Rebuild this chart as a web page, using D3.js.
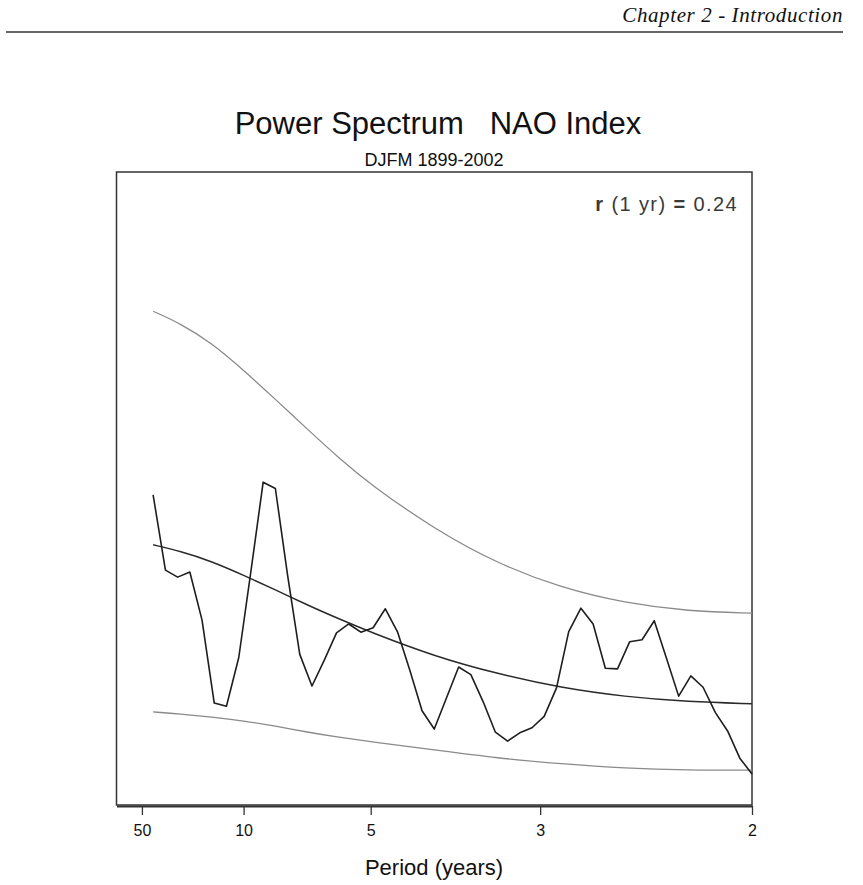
<!DOCTYPE html>
<html>
<head>
<meta charset="utf-8">
<script src="https://cdn.jsdelivr.net/npm/d3@7"></script>
<style>
  body { margin: 0; background: #fff; }
  text { font-family: "Liberation Sans", Arial, sans-serif; }
</style>
</head>
<body>
<div id="container"></div>
<script>
/* CONSTANTS AND GLOBALS */
const width = 863,
  height = 885,
  margin = { top: 172, bottom: 80, left: 116.5, right: 111 }

/* DATA */
// spectrum estimates at harmonics k/104 (k = 3..52), arbitrary power units
const freqs = [0.0288, 0.0385, 0.0481, 0.0577, 0.0673, 0.0769, 0.0865, 0.0962, 0.1058, 0.1154,
  0.1250, 0.1346, 0.1442, 0.1538, 0.1635, 0.1731, 0.1827, 0.1923, 0.2019, 0.2115,
  0.2212, 0.2308, 0.2404, 0.2500, 0.2596, 0.2692, 0.2788, 0.2885, 0.2981, 0.3077,
  0.3173, 0.3269, 0.3365, 0.3462, 0.3558, 0.3654, 0.3750, 0.3846, 0.3942, 0.4038,
  0.4135, 0.4231, 0.4327, 0.4423, 0.4519, 0.4615, 0.4712, 0.4808, 0.4904, 0.5000]
const power = [4.90, 3.71, 3.60, 3.68, 2.92, 1.61, 1.56, 2.33, 3.70, 5.10,
  5.00, 3.63, 2.38, 1.88, 2.29, 2.72, 2.86, 2.73, 2.80, 3.10,
  2.73, 2.13, 1.49, 1.20, 1.69, 2.18, 2.06, 1.63, 1.15, 1.01,
  1.14, 1.22, 1.40, 1.85, 2.74, 3.11, 2.86, 2.16, 2.15, 2.58,
  2.61, 2.91, 2.32, 1.72, 2.04, 1.86, 1.46, 1.17, 0.74, 0.49]

// red noise background and confidence limits
const bgFreqs = [0.0288, 0.05, 0.075, 0.1, 0.125, 0.15, 0.175, 0.2, 0.25, 0.3, 0.35, 0.4, 0.45, 0.5]
const upper = [7.80, 7.61, 7.30, 6.87, 6.41, 5.94, 5.48, 5.06, 4.36, 3.81, 3.43, 3.19, 3.06, 3.03]
const redNoise = [4.11, 4.01, 3.85, 3.63, 3.40, 3.16, 2.94, 2.73, 2.35, 2.07, 1.85, 1.71, 1.63, 1.60]
const lower = [1.47, 1.44, 1.39, 1.33, 1.25, 1.15, 1.07, 1.00, 0.87, 0.74, 0.65, 0.58, 0.55, 0.55]

// x axis: period ticks (years)
const periodTicks = [50, 10, 5, 3, 2]

const svg = d3.select("#container")
  .append("svg")
  .attr("width", width)
  .attr("height", height)

// header
svg.append("text")
  .attr("x", 843)
  .attr("y", 22)
  .attr("text-anchor", "end")
  .style("font-family", "'Liberation Serif', 'DejaVu Serif', serif")
  .attr("font-style", "italic")
  .attr("font-size", "21px")
  .attr("letter-spacing", "0.6px")
  .attr("fill", "#111")
  .text("Chapter 2 - Introduction")

svg.append("line")
  .attr("x1", 6).attr("x2", 843)
  .attr("y1", 32).attr("y2", 32)
  .attr("stroke", "#333")
  .attr("stroke-width", 1.3)

//scales
const xScale = d3.scaleLinear()
  .domain([0, 0.5])
  .range([margin.left, width - margin.right])

const yScale = d3.scaleLinear()
  .domain([0, 10])
  .range([height - margin.bottom, margin.top])

const x0 = xScale(0), x1 = xScale(0.5), y0 = yScale(0), y1 = yScale(10)

// titles
svg.append("text")
  .attr("x", 438)
  .attr("y", 134)
  .attr("text-anchor", "middle")
  .attr("font-size", "31px")
  .attr("fill", "#111")
  .attr("xml:space", "preserve")
  .style("white-space", "pre")
  .text("Power Spectrum   NAO Index")

svg.append("text")
  .attr("x", 434)
  .attr("y", 166)
  .attr("text-anchor", "middle")
  .attr("font-size", "18px")
  .attr("fill", "#111")
  .text("DJFM 1899-2002")

// plot frame
svg.append("rect")
  .attr("x", x0).attr("y", y1)
  .attr("width", x1 - x0).attr("height", y0 - y1)
  .attr("fill", "none")
  .attr("stroke", "#333")
  .attr("stroke-width", 1.5)

// x-axis (frequency linear, labelled by period)
const xAxis = d3.axisBottom(xScale)
  .tickValues(periodTicks.map(p => 1 / p))
  .tickFormat((d, i) => periodTicks[i])
  .tickSizeInner(9)
  .tickSizeOuter(0)

const gx = svg.append("g")
  .attr("class", "x-axis")
  .attr("transform", `translate(0, ${y0 + 1})`)
  .call(xAxis)

gx.select(".domain")
  .attr("stroke", "#333")
  .attr("stroke-width", 2.2)
gx.selectAll(".tick line")
  .attr("stroke", "#333")
  .attr("stroke-width", 1.3)
gx.selectAll(".tick text")
  .attr("font-size", "16px")
  .attr("fill", "#111")
  .attr("dy", "1.1em")
  .style("font-family", "'Liberation Sans', Arial, sans-serif")

svg.append("text")
  .attr("x", 434)
  .attr("y", 875)
  .attr("text-anchor", "middle")
  .attr("font-size", "22px")
  .attr("fill", "#111")
  .text("Period (years)")

// lag-1 autocorrelation note
const note = svg.append("text")
  .attr("x", 738)
  .attr("y", 211)
  .attr("text-anchor", "end")
  .attr("font-size", "20px")
  .attr("letter-spacing", "1.4px")
  .attr("fill", "#3a3a3a")
note.append("tspan").attr("font-weight", "bold").text("r")
note.append("tspan").text(" (1 yr) ")
note.append("tspan").attr("font-weight", "bold").text("=")
note.append("tspan").text(" 0.24")

// curves
const smooth = d3.line()
  .x((d, i) => xScale(bgFreqs[i]))
  .y(d => yScale(d))
  .curve(d3.curveBasis)

svg.selectAll(".bound")
  .data([upper, lower])
  .join("path")
  .attr("class", "bound")
  .attr("d", d => smooth(d))
  .attr("fill", "none")
  .attr("stroke", "#8a8a8a")
  .attr("stroke-width", 1.3)

svg.append("path")
  .attr("class", "rednoise")
  .attr("d", smooth(redNoise))
  .attr("fill", "none")
  .attr("stroke", "#2a2a2a")
  .attr("stroke-width", 1.5)

const lineGen = d3.line()
  .x((d, i) => xScale(freqs[i]))
  .y(d => yScale(d))

svg.append("path")
  .attr("class", "spectrum")
  .attr("d", lineGen(power))
  .attr("fill", "none")
  .attr("stroke", "#1e1e1e")
  .attr("stroke-width", 1.6)
  .attr("stroke-linejoin", "round")
</script>
</body>
</html>
